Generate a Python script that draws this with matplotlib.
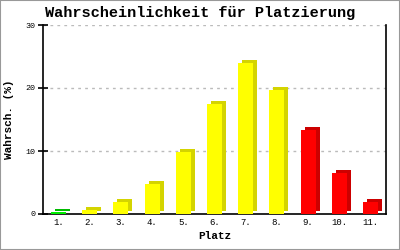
import matplotlib
matplotlib.use("Agg")
import matplotlib.pyplot as plt
import matplotlib.transforms as mtransforms
from matplotlib.patches import Rectangle

# Platzierungs-Wahrscheinlichkeiten
places = ["1.", "2.", "3.", "4.", "5.", "6.", "7.", "8.", "9.", "10.", "11."]
probs = [0.3, 0.7, 1.9, 4.8, 9.8, 17.5, 24.0, 19.7, 13.4, 6.5, 1.9]
front_colors = ["#00ee00"] + ["#ffff00"] * 7 + ["#ff0000"] * 3
side_colors = ["#00bb00"] + ["#d4d400"] * 7 + ["#cc0000"] * 3
yticks = [0, 10, 20, 30]

mono = ["Liberation Mono", "DejaVu Sans Mono"]

fig = plt.figure(figsize=(4, 2.5), dpi=100)
ax = fig.add_axes([0.1075, 0.144, 0.8575, 0.756])

x = list(range(1, len(places) + 1))

# 3D look: dark copy shifted right/up, front bar drawn on top
shift = mtransforms.ScaledTranslation(0.04, 0.03, fig.dpi_scale_trans)
ax.bar(x, probs, width=0.48, color=side_colors, transform=ax.transData + shift, zorder=2)
ax.bar(x, probs, width=0.48, color=front_colors, zorder=3)

ax.set_xlim(0.5, 11.5)
ax.set_ylim(0, 30)
ax.set_yticks(yticks)
ax.set_xticks(x)
ax.set_xticklabels(places)

for t in yticks[1:]:
    ax.axhline(t, color="#bbbbbb", linestyle=(0, (2, 3)), linewidth=1, zorder=1)

ax.spines["top"].set_visible(False)
for s in ["left", "bottom", "right"]:
    ax.spines[s].set_linewidth(1.2)
    ax.spines[s].set_color("black")

ax.tick_params(axis="y", direction="inout", length=7, width=1.2, labelsize=6, pad=2)
ax.tick_params(axis="x", length=0, labelsize=6.5, pad=3)
for lbl in ax.get_xticklabels() + ax.get_yticklabels():
    lbl.set_family(mono)

fig.text(0.5, 0.948, "Wahrscheinlichkeit für Platzierung", family=mono, fontsize=11,
         fontweight="bold", ha="center", va="center")
ax.set_xlabel("Platz", family=mono, fontsize=8, fontweight="bold", labelpad=3)
ax.set_ylabel("Wahrsch. (%)", family=mono, fontsize=8, fontweight="bold", labelpad=8)

fig.patches.append(Rectangle((0, 0), 1, 1, transform=fig.transFigure, fill=False,
                             edgecolor="#999999", linewidth=1.5))

fig.savefig("out.png", dpi=100)
